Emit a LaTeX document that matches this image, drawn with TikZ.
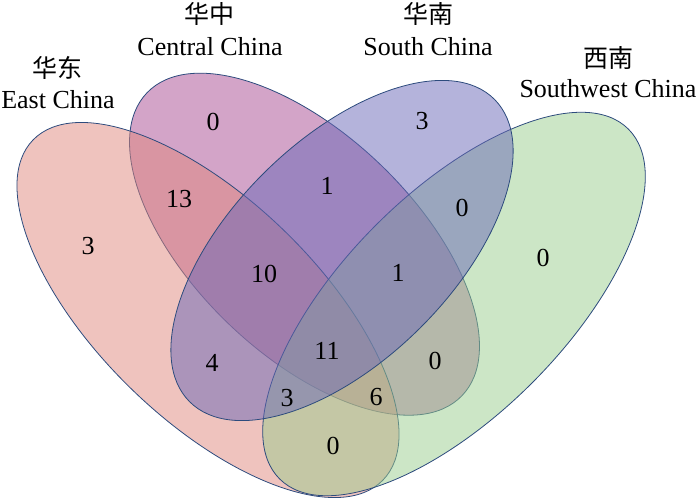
\documentclass[tikz,border=0pt]{standalone}
\usepackage{fontspec}
\setmainfont{Liberation Serif}
\newfontfamily\cjk{Noto Sans CJK SC}
\definecolor{eastcol}{RGB}{223,135,125}
\definecolor{centcol}{RGB}{167,73,145}
\definecolor{southcol}{RGB}{105,103,183}
\definecolor{swcol}{RGB}{153,205,141}
\definecolor{edgecol}{RGB}{45,75,125}
\tikzset{
  region/.style={draw=edgecol, line width=0.8pt, fill opacity=0.5},
  count/.style={anchor=base, inner sep=0pt, font=\fontsize{26}{26}\selectfont},
  setname/.style={anchor=base, inner sep=0pt, font=\fontsize{26}{26}\selectfont},
  zhname/.style={anchor=base, inner sep=0pt, font=\cjk\fontsize{25}{25}\selectfont}
}
\begin{document}
\begin{tikzpicture}[x=1pt, y=-1pt]
\useasboundingbox (0,0) rectangle (700,498);

% Sets (Central, East, Southwest, South)
\draw[region, fill=centcol, rotate around={-43.9:(304.5,244.2)}]
  (304.5,244.2) ellipse [x radius=218.5, y radius=110];
\draw[region, fill=eastcol, rotate around={-44.2:(208,310)}]
  (208,310) ellipse [x radius=244, y radius=110];
\draw[region, fill=swcol, rotate around={45.1:(454,304)}]
  (454,304) ellipse [x radius=247, y radius=111];
\draw[region, fill=southcol, rotate around={44.7:(342,250.5)}]
  (342,250.5) ellipse [x radius=214.7, y radius=110];

% Set names
\node[zhname] (eastzh) at (57,77) {华东};
\node[setname] (easten) at (58,108) {East China};
\node[zhname] (centzh) at (209,23) {华中};
\node[setname] (centen) at (210,55) {Central China};
\node[zhname] (southzh) at (428,23) {华南};
\node[setname] (southen) at (428,55) {South China};
\node[zhname] (swzh) at (608,67) {西南};
\node[setname] (swen) at (608,97) {Southwest China};

% Counts
\foreach \nm/\px/\py/\val in {
  A/88/245/3, AB/179/198/13, B/213/121/0, BC/327/185/1, C/422/120/3,
  CD/462/207/0, D/543/257/0, ABC/264/273/10, BCD/398/272/1, AC/212/362/4,
  ABCD/327/350/11, BD/435/360/0, ACD/287/397/3, ABD/376/396/6, AD/333/445/0
}
  \node[count] (n\nm) at (\px,\py+9) {\val};
\end{tikzpicture}
\end{document}
